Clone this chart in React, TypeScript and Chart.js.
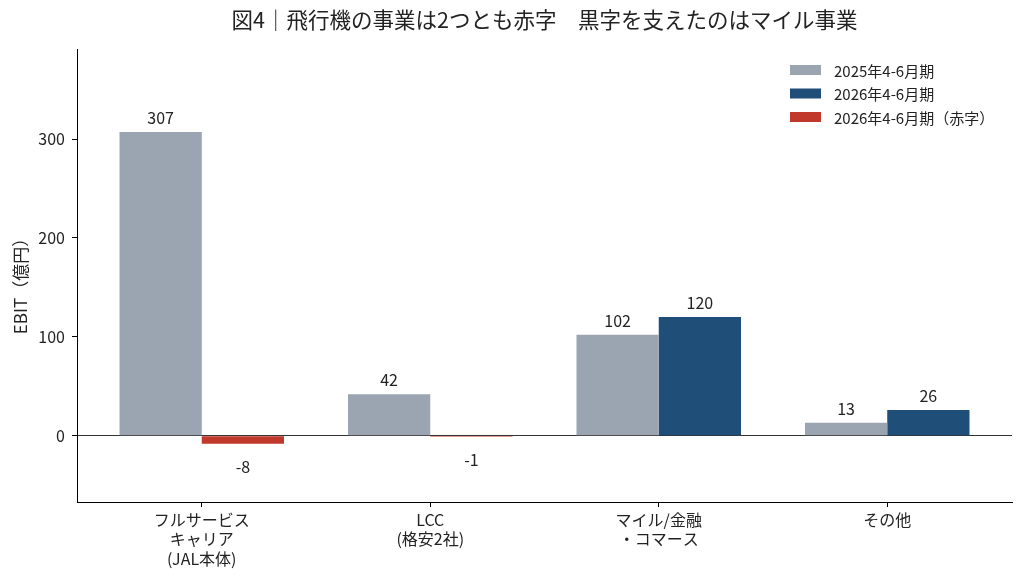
import { useEffect, useRef } from 'react'
import { Chart, registerables } from 'chart.js'

Chart.register(...registerables)

const categories = [
    ['フルサービス', 'キャリア', '(JAL本体)'],
    ['LCC', '(格安2社)'],
    ['マイル/金融', '・コマース'],
    ['その他'],
]
const ebit2025 = [307, 42, 102, 13]
const ebit2026 = [-8, -1, 120, 26]
const seriesNames = ['2025年4-6月期', '2026年4-6月期', '2026年4-6月期（赤字）']
const yTicks = [0, 100, 200, 300]
const titleText = '図4｜飛行機の事業は2つとも赤字　黒字を支えたのはマイル事業'
const yTitle = 'EBIT（億円）'

const GRAY = '#9aa5b1'
const BLUE = '#1f4e79'
const RED = '#c0392b'
const INK = '#222'
const FONT = '"Noto Sans CJK JP", "Noto Sans", sans-serif'

// title, legend, axis title and value labels, matplotlib style
const textPlugin = {
    id: 'texts',
    afterDraw(chart: Chart) {
        const { ctx: c, chartArea } = chart as any
        c.save()
        c.fillStyle = INK

        // title over the plot area
        c.font = `21.5px ${FONT}`
        c.textAlign = 'center'
        c.textBaseline = 'middle'
        c.fillText(titleText, (chartArea.left + chartArea.right) / 2, 20)

        // y axis title
        c.save()
        c.translate(21, 282)
        c.rotate(-Math.PI / 2)
        c.font = `17px ${FONT}`
        c.fillText(yTitle, 0, 0)
        c.restore()

        // value labels
        c.font = `16px ${FONT}`
        c.textAlign = 'center'
        c.textBaseline = 'alphabetic'
        chart.data.datasets.forEach((ds, di) => {
            const meta = chart.getDatasetMeta(di)
            meta.data.forEach((el: any, i) => {
                const v = (ds.data[i] as any).y as number
                if (v >= 0) c.fillText(String(v), el.x, el.y - 8)
                else c.fillText(String(v), el.x, el.y + 29)
            })
        })

        // legend
        const colors = [GRAY, BLUE, RED]
        c.font = `15px ${FONT}`
        c.textAlign = 'left'
        c.textBaseline = 'middle'
        seriesNames.forEach((name, i) => {
            const cy = 70 + i * 23.5
            c.fillStyle = colors[i]
            c.fillRect(790, cy - 5, 31, 10)
            c.fillStyle = INK
            c.fillText(name, 834, cy + 1)
        })
        c.restore()
    },
}

export default function App() {
    const canvasRef = useRef<HTMLCanvasElement>(null)
    const chartRef = useRef<Chart | null>(null)

    useEffect(() => {
        document.body.style.margin = '0'
        if (!canvasRef.current) return
        if (chartRef.current) { chartRef.current.destroy(); chartRef.current = null }

        chartRef.current = new Chart(canvasRef.current, {
            type: 'bar',
            data: {
                datasets: [
                    {
                        label: seriesNames[0],
                        data: ebit2025.map((v, i) => ({ x: i, y: v })),
                        backgroundColor: GRAY,
                    },
                    {
                        label: seriesNames[1],
                        data: ebit2026.map((v, i) => ({ x: i, y: v })),
                        backgroundColor: ebit2026.map(v => (v < 0 ? RED : BLUE)),
                    },
                ],
            },
            options: {
                animation: false,
                responsive: true,
                maintainAspectRatio: false,
                datasets: { bar: { categoryPercentage: 0.72, barPercentage: 1.0 } },
                layout: { padding: { top: 49, right: 12, left: 0, bottom: 0 } },
                plugins: {
                    legend: { display: false },
                    tooltip: { enabled: false },
                    title: { display: false },
                },
                scales: {
                    x: {
                        type: 'linear',
                        offset: false,
                        min: -0.546,
                        max: 3.546,
                        afterFit: (s: any) => { s.height = 77 },
                        afterBuildTicks: (s: any) => { s.ticks = categories.map((_, i) => ({ value: i })) },
                        ticks: {
                            autoSkip: false,
                            maxRotation: 0,
                            padding: 3,
                            color: INK,
                            font: { family: FONT, size: 16, lineHeight: 1.22 },
                            callback: (v: any) => categories[v] as any,
                        },
                        grid: { offset: false, drawOnChartArea: false, drawTicks: true, tickLength: 5, tickColor: '#000' },
                        border: { display: true, color: '#000', width: 1 },
                    },
                    y: {
                        min: -67,
                        max: 391,
                        afterFit: (s: any) => { s.width = 77 },
                        afterBuildTicks: (s: any) => { s.ticks = yTicks.map(v => ({ value: v })) },
                        ticks: {
                            padding: 7,
                            color: INK,
                            font: { family: FONT, size: 16 },
                        },
                        grid: {
                            color: (ctx: any) => (ctx.tick && ctx.tick.value === 0 ? '#333' : 'rgba(0,0,0,0)'),
                            lineWidth: 1,
                            drawTicks: true,
                            tickLength: 5,
                            tickColor: '#000',
                        },
                        border: { display: true, color: '#000', width: 1 },
                    },
                },
            },
            plugins: [textPlugin],
        } as any)

        return () => { chartRef.current?.destroy(); chartRef.current = null }
    }, [])

    return (
        <div style={{ width: 1024, height: 579, position: 'relative' }}>
            <canvas ref={canvasRef} />
        </div>
    )
}
